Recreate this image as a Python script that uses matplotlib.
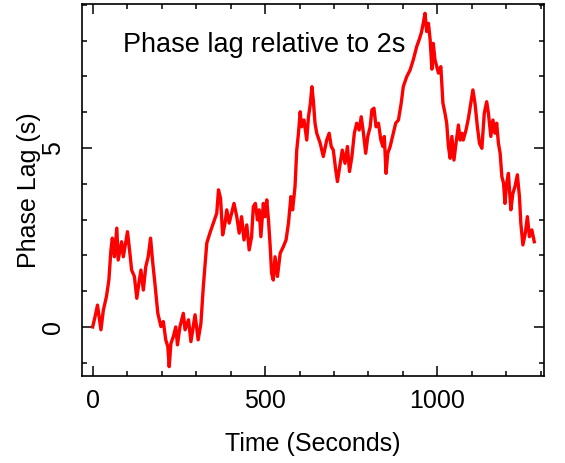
import matplotlib
matplotlib.use("Agg")
import matplotlib.pyplot as plt
from matplotlib.ticker import MultipleLocator

plt.rcParams['font.family'] = ['Liberation Sans', 'DejaVu Sans']

# values
time_s = [0, 7, 14, 24, 31, 40, 47, 53, 57, 63, 70, 74, 84, 89, 101, 108, 113, 121,
          128, 134, 140, 147, 154, 161, 168, 174, 181, 189, 198, 205, 212, 218, 222,
          227, 234, 241, 246, 253, 263, 268, 278, 285, 297, 306, 314, 321, 331, 340,
          350, 360, 365, 371, 377, 384, 389, 396, 403, 410, 418, 425, 432, 439, 447,
          454, 461, 466, 472, 478, 483, 488, 495, 500, 505, 510, 515, 519, 524, 529,
          536, 544, 553, 561, 568, 575, 580, 587, 592, 597, 602, 606, 613, 621, 626,
          631, 636, 640, 645, 650, 660, 669, 679, 686, 692, 698, 705, 710, 718, 724,
          732, 739, 745, 752, 759, 766, 773, 779, 785, 792, 798, 805, 810, 816, 822,
          829, 836, 842, 846, 851, 856, 863, 872, 879, 887, 895, 901, 911, 921, 930,
          940, 947, 953, 959, 964, 969, 974, 979, 984, 988, 993, 1003, 1010, 1016,
          1022, 1027, 1032, 1037, 1042, 1048, 1054, 1061, 1066, 1071, 1075, 1083,
          1090, 1097, 1103, 1109, 1116, 1122, 1129, 1136, 1143, 1148, 1155, 1161,
          1167, 1172, 1177, 1182, 1187, 1192, 1196, 1201, 1206, 1213, 1219, 1225,
          1232, 1238, 1242, 1248, 1255, 1261, 1267, 1274, 1281]

phase_lag = [0.0, 0.29, 0.61, -0.08, 0.47, 0.85, 1.31, 2.15, 2.48, 1.96, 2.76, 1.87,
             2.38, 1.96, 2.66, 2.06, 1.59, 1.41, 0.80, 1.22, 1.59, 1.03, 1.68, 1.96,
             2.48, 1.82, 1.17, 0.38, 0.01, 0.15, -0.36, -0.55, -1.11, -0.46, -0.27,
             0.0, -0.50, 0.0, 0.38, -0.08, 0.20, -0.41, 0.34, -0.36, 0.10, 1.13, 2.34,
             2.62, 2.90, 3.18, 3.83, 3.59, 2.57, 2.90, 3.27, 2.90, 3.18, 3.45, 3.08,
             2.62, 3.08, 2.43, 2.85, 2.15, 2.52, 3.36, 3.45, 2.99, 3.27, 2.52, 3.45,
             3.08, 3.55, 2.99, 2.24, 1.50, 1.31, 1.96, 1.41, 2.06, 2.24, 2.43, 2.90,
             3.64, 3.27, 3.92, 4.94, 5.41, 6.01, 5.59, 5.78, 5.22, 5.87, 6.20, 6.71,
             6.34, 5.69, 5.41, 5.13, 4.76, 5.22, 5.41, 5.04, 4.94, 4.39, 4.06, 4.57,
             4.94, 4.57, 5.04, 4.34, 4.76, 5.41, 5.69, 5.50, 5.87, 5.45, 4.85, 5.32,
             5.59, 6.06, 6.11, 5.59, 5.69, 5.22, 5.04, 5.32, 4.29, 4.85, 5.04, 5.41,
             5.69, 5.78, 6.25, 6.71, 6.99, 7.18, 7.46, 7.83, 8.02, 8.20, 8.48, 8.76,
             8.25, 8.48, 8.02, 7.20, 7.92, 7.46, 7.09, 7.27, 6.25, 5.97, 5.69, 5.04,
             4.71, 5.32, 4.66, 5.13, 5.64, 5.22, 5.41, 5.22, 5.50, 5.83, 6.25, 6.62,
             6.25, 5.59, 5.13, 4.99, 5.97, 6.29, 5.97, 5.32, 5.78, 5.41, 5.69, 5.13,
             4.85, 4.20, 4.01, 3.45, 4.01, 4.29, 3.27, 3.73, 3.92, 4.25, 3.64, 2.90,
             2.29, 2.62, 3.08, 2.52, 2.71, 2.38]

x_major = [0, 500, 1000]
y_major = [0, 5]

fig = plt.figure(figsize=(5.65, 4.63), dpi=100)
ax = fig.add_axes([0.1451, 0.1879, 0.8182, 0.8035])

ax.plot(time_s, phase_lag, color='red', lw=2.4)

ax.set_xlim(-31, 1310)
ax.set_ylim(-1.37, 9.02)
ax.set_xticks(x_major)
ax.set_yticks(y_major)
ax.xaxis.set_minor_locator(MultipleLocator(100))
ax.yaxis.set_minor_locator(MultipleLocator(1))
ax.tick_params(which='both', direction='in', top=True, right=True, width=1.1,
               labelsize=18)
ax.tick_params(which='major', length=7.5)
ax.tick_params(which='minor', length=3.8)
ax.tick_params(axis='x', pad=9)
ax.tick_params(axis='y', pad=12)
for lbl in ax.get_yticklabels():
    lbl.set_rotation(90)
    lbl.set_va('center')
for sp in ax.spines.values():
    sp.set_linewidth(1.2)

ax.set_xlabel('Time (Seconds)', fontsize=18, labelpad=14)
ax.set_ylabel('Phase Lag (s)', fontsize=18, labelpad=0)
ax.text(0.089, 0.872, 'Phase lag relative to 2s', transform=ax.transAxes,
        fontsize=19.5, va='baseline')

fig.savefig('out.png', dpi=100)
